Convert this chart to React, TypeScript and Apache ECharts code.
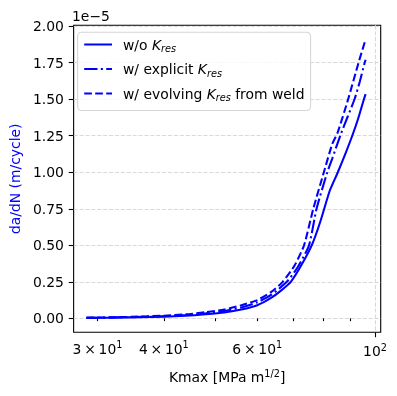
import React, { useEffect, useRef } from 'react';
import * as echarts from 'echarts';

// ---- data (Kmax in MPa m^1/2, da/dN in units of 1e-5 m/cycle) ----
const seriesNames = ['w/o K_res', 'w/ explicit K_res', 'w/ evolving K_res from weld'];

const kWithout = [28.6, 32, 36, 40, 44, 48, 52, 56, 60, 63.7, 66.5, 69.4, 72.8, 76.2, 79.0, 82.2, 85.1, 88, 90.6, 93, 95.3, 96];
const vWithout = [0.003, 0.005, 0.008, 0.012, 0.018, 0.028, 0.04, 0.06, 0.09, 0.14, 0.19, 0.25, 0.37, 0.51, 0.67, 0.875, 1.0, 1.13, 1.25, 1.37, 1.5, 1.535];

const kExplicit = [28.6, 32, 36, 40, 44, 48, 52, 56, 60, 63.7, 68.2, 71.5, 75.1, 77.6, 81.3, 83.0, 86.0, 88.8, 91.5, 93.6, 95.6, 96];
const vExplicit = [0.003, 0.006, 0.01, 0.015, 0.023, 0.035, 0.05, 0.075, 0.11, 0.16, 0.25, 0.35, 0.5, 0.75, 1.0, 1.09, 1.25, 1.38, 1.5, 1.62, 1.75, 1.77];

const kEvolving = [28.6, 32, 36, 40, 44, 48, 52, 56, 60, 63.7, 67, 70.5, 73.5, 76.5, 80.1, 83.0, 85.0, 89.0, 93.1, 96];
const vEvolving = [0.004, 0.007, 0.012, 0.018, 0.027, 0.042, 0.06, 0.09, 0.125, 0.18, 0.25, 0.36, 0.5, 0.75, 1.0, 1.19, 1.27, 1.5, 1.75, 1.91];

const yTicks = [0, 0.25, 0.5, 0.75, 1.0, 1.25, 1.5, 1.75, 2.0];
const xMinorTicks = [30, 40, 50, 60, 70, 80, 90];
const xLabeledMinor = [30, 40, 60];
const xMajorTicks = [100];
const xRange = [27.05, 102.5];
const yRange = [-0.0955, 2.006];

const FONT = 'DejaVu Sans';
const FS = 13.9;

const legendLabels: Record<string, string> = {
  'w/o K_res': '{n|w/o }{k|K}{s|res}',
  'w/ explicit K_res': '{n|w/ explicit }{k|K}{s|res}',
  'w/ evolving K_res from weld': '{n|w/ evolving }{k|K}{s|res}{n| from weld}',
};

const lg = (v: number) => Math.log10(v);

export default function App() {
  const ref = useRef<HTMLDivElement>(null);
  useEffect(() => {
    if (!ref.current) return;
    const chart = echarts.init(ref.current, undefined, { renderer: 'svg' });
    const richN = { fontSize: FS, lineHeight: 18, fontFamily: FONT, color: '#000' };
    const richSup = { fontSize: 9.7, lineHeight: 10, fontFamily: FONT, color: '#000', verticalAlign: 'top' };
    const mk = (ks: number[], vs: number[]) => ks.map((k, i) => [lg(k), vs[i]]);
    const grid = { show: true, left: 70.7, right: 16.3, top: 25.3, bottom: 63.7, borderColor: '#000', borderWidth: 1.1, backgroundColor: 'transparent' };
    const gridLine = { color: '#d9d9d9', width: 1.1, type: [4.1, 1.8] };
    const option: any = {
      animation: false,
      grid,
      graphic: [
        { type: 'text', left: 72, top: 9, style: { text: '1e\u22125', fontSize: FS, fontFamily: FONT, fill: '#000' } },
      ],
      legend: {
        orient: 'vertical',
        left: 77.6,
        top: 32.2,
        padding: [5.3, 6, 8, 5.6],
        itemGap: 8.5,
        itemWidth: 27.8,
        itemHeight: 14,
        backgroundColor: 'rgba(255,255,255,0.8)',
        borderColor: 'rgba(204,204,204,0.8)',
        borderWidth: 1.1,
        borderRadius: 4,
        data: seriesNames,
        itemStyle: { color: 'rgba(0,0,0,0)', borderWidth: 0, opacity: 0 },
        formatter: (name: string) => legendLabels[name],
        textStyle: {
          fontFamily: FONT,
          fontSize: FS,
          color: '#000',
          padding: [0, 0, 0, 6],
          rich: {
            n: { fontSize: FS, lineHeight: 18, fontFamily: FONT, color: '#000' },
            k: { fontSize: FS, lineHeight: 18, fontFamily: FONT, color: '#000', fontStyle: 'italic' },
            s: { fontSize: 9.7, lineHeight: 10, fontFamily: FONT, color: '#000', fontStyle: 'italic', verticalAlign: 'bottom' },
          },
        },
      },
      xAxis: [
        {
          type: 'value',
          min: lg(xRange[0]),
          max: lg(xRange[1]),
          position: 'bottom',
          axisLine: { show: false },
          splitLine: { show: false },
          axisTick: { show: true, length: 2.8, customValues: xMinorTicks.map(lg), lineStyle: { color: '#000', width: 1.1 } },
          axisLabel: {
            customValues: xLabeledMinor.map(lg),
            margin: 7.5,
            formatter: (v: number) => {
              const k = Math.round(Math.pow(10, v));
              return `{n|${k / 10}\u2009\u00d7\u200910}{s|1}`;
            },
            rich: { n: richN, s: richSup },
          },
          name: '{n|Kmax [MPa m}{s|1/2}{n|]}',
          nameLocation: 'middle',
          nameGap: 36,
          nameTextStyle: { rich: { n: richN, s: richSup } },
        },
        {
          type: 'value',
          min: lg(xRange[0]),
          max: lg(xRange[1]),
          position: 'bottom',
          axisLine: { show: false },
          splitLine: { show: true, lineStyle: gridLine },
          axisTick: { show: true, length: 4.9, customValues: xMajorTicks.map(lg), lineStyle: { color: '#000', width: 1.1 } },
          axisLabel: {
            customValues: xMajorTicks.map(lg),
            margin: 9.8,
            formatter: () => '{n|10}{s|2}',
            rich: { n: richN, s: richSup },
          },
        },
      ],
      yAxis: {
        type: 'value',
        min: yRange[0],
        max: yRange[1],
        axisLine: { show: false },
        splitLine: { show: true, lineStyle: gridLine },
        axisTick: { show: true, length: 4.9, customValues: yTicks, lineStyle: { color: '#000', width: 1.1 } },
        axisLabel: {
          customValues: yTicks,
          margin: 9.8,
          color: '#000',
          fontSize: FS,
          fontFamily: FONT,
          formatter: (v: number) => v.toFixed(2),
        },
        name: 'da/dN (m/cycle)',
        nameLocation: 'middle',
        nameGap: 50,
        nameTextStyle: { color: '#0000ff', fontSize: FS, fontFamily: FONT },
      },
      series: [
        {
          name: seriesNames[0], type: 'line', xAxisIndex: 0, symbol: 'none', smooth: 0.2,
          data: mk(kWithout, vWithout),
          lineStyle: { color: '#0000ff', width: 2.08, type: 'solid' },
          itemStyle: { color: '#0000ff' },
        },
        {
          name: seriesNames[1], type: 'line', xAxisIndex: 0, symbol: 'none', smooth: 0.2,
          data: mk(kExplicit, vExplicit),
          lineStyle: { color: '#0000ff', width: 2.08, type: [13.3, 3.3, 2.1, 3.3] },
          itemStyle: { color: '#0000ff' },
        },
        {
          name: seriesNames[2], type: 'line', xAxisIndex: 0, symbol: 'none', smooth: 0.2,
          data: mk(kEvolving, vEvolving),
          lineStyle: { color: '#0000ff', width: 2.08, type: [7.7, 3.3] },
          itemStyle: { color: '#0000ff' },
        },
      ],
    };
    chart.setOption(option);
    return () => chart.dispose();
  }, []);
  return <div ref={ref} style={{ position: 'fixed', left: 0, top: 0, width: 397, height: 396 }} />;
}
